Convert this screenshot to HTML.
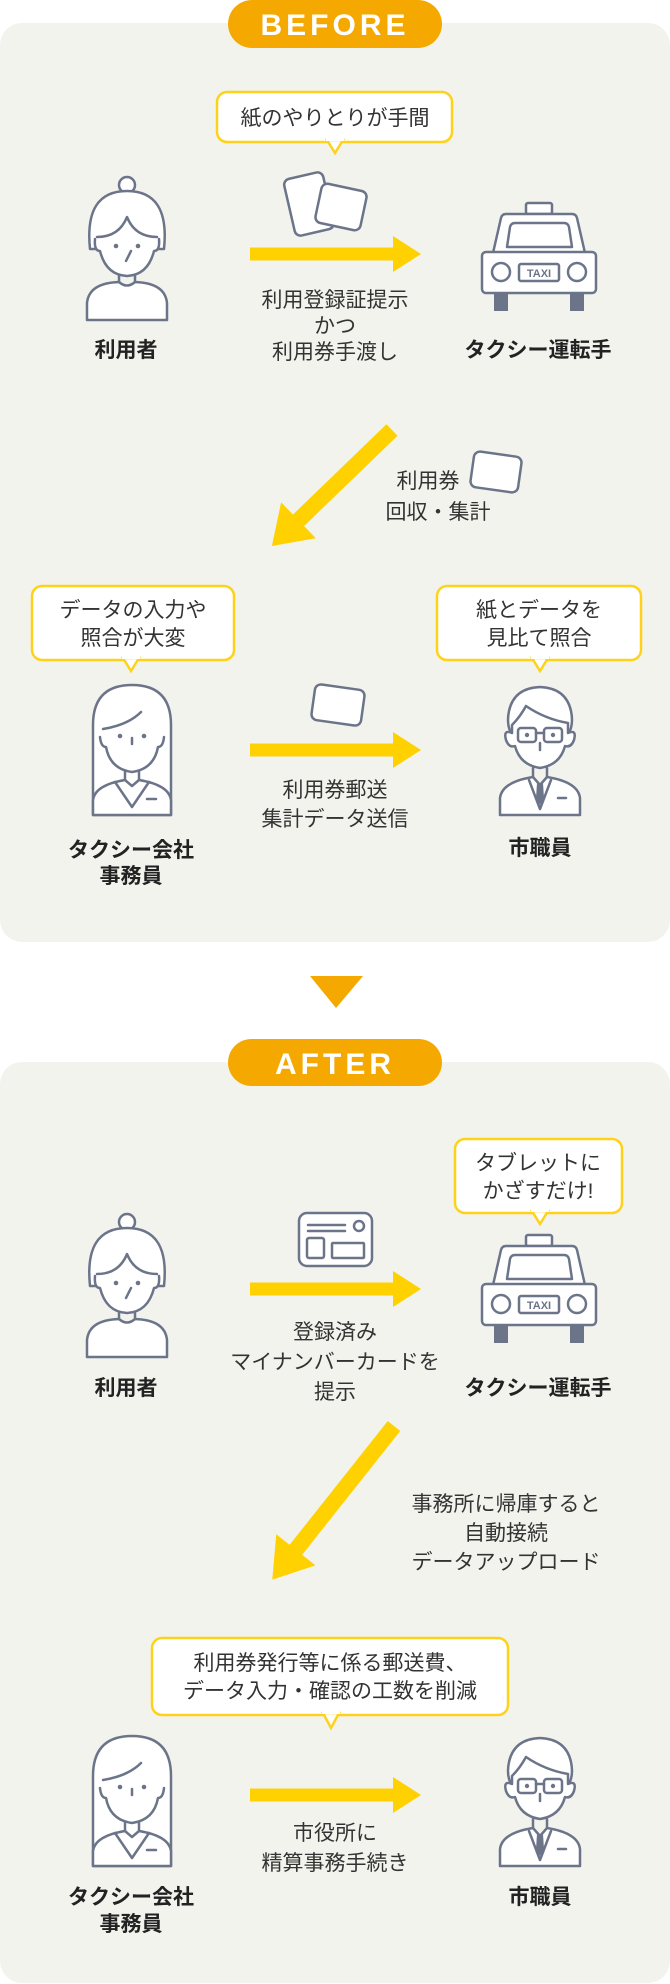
<!DOCTYPE html>
<html><head><meta charset="utf-8"><style>
html,body{margin:0;padding:0;background:#fff;}
svg{display:block;}
text{font-family:"Liberation Sans","Noto Sans CJK JP",sans-serif;}
.d{font-size:21px;fill:#333;text-anchor:middle;}
.l{font-size:21px;fill:#222;font-weight:bold;text-anchor:middle;}
.b{font-size:21px;fill:#333;text-anchor:middle;}
.ic{fill:#fff;stroke:#6B7489;stroke-width:2.5;stroke-linecap:round;stroke-linejoin:round;}
.ln{fill:none;stroke:#6B7489;stroke-width:2.5;stroke-linecap:round;stroke-linejoin:round;}
.bub{fill:#fff;stroke:#FFD21A;stroke-width:2.5;}
</style></head><body>
<svg width="670" height="1984" viewBox="0 0 670 1984" xmlns="http://www.w3.org/2000/svg">
<defs>
<g id="oldw">
 <circle class="ic" cx="41" cy="8" r="8"/>
 <path class="ic" d="M4,72 Q-2,14 41,14 Q84,14 78,72 Z"/>
 <path class="ic" d="M9,62 Q8,74 14,74 Q20,98 41,99 Q62,98 68,74 Q74,74 73,62"/>
 <path class="ln" d="M11,60 Q33,60 41,40 Q49,60 71,60"/>
 <circle cx="30" cy="69" r="2.3" fill="#6B7489"/><circle cx="52" cy="69" r="2.3" fill="#6B7489"/>
 <path class="ln" d="M45,74 L40,84"/>
 <path class="ic" d="M1,143 V126 Q3,106 33,105 Q41,112 49,105 Q79,106 81,126 V143 Z"/>
 <path class="ln" d="M33,99 V105 M49,99 V105"/>
</g>
<g id="girl">
 <path class="ic" d="M1,130 V40 Q1,0 40,0 Q79,0 79,40 V130 Z"/>
 <path class="ic" d="M8,52 Q9,62 14,62 Q18,84 40,87 Q62,84 66,62 Q71,62 72,52"/>
 <path class="ln" d="M11,44 Q36,40 49,27"/>
 <circle cx="28" cy="51" r="2.3" fill="#6B7489"/><circle cx="52" cy="51" r="2.3" fill="#6B7489"/>
 <path class="ln" d="M40,53 V59"/>
 <path class="ic" d="M1,130 V115 Q3,100 33,95 L40,101 L47,95 Q77,100 79,115 V130 Z"/>
 <path class="ln" d="M33,87 V95 M47,87 V95 M23,97 L40,122 L57,97 M55,114 H64"/>
</g>
<g id="man">
 <path class="ic" d="M12,50 Q6,40 9,26 Q14,3 40,2 Q66,3 71,26 Q74,40 68,50 Z"/>
 <path class="ic" d="M12,48 Q3,44 6,55 Q9,63 15,61 Q20,80 40,83 Q60,80 65,61 Q71,63 74,55 Q77,44 68,48 L68,38 Q45,34 26,21 Q20,32 12,40 Z"/>
 <rect class="ln" x="18" y="43" width="18" height="14" rx="3"/><rect class="ln" x="44" y="43" width="18" height="14" rx="3"/>
 <path class="ln" d="M36,48 H44"/>
 <circle cx="27" cy="50" r="2.2" fill="#6B7489"/><circle cx="53" cy="50" r="2.2" fill="#6B7489"/>
 <path class="ln" d="M40,58 V65"/>
 <path class="ic" d="M0,130 V113 Q2,97 33,92 L40,100 L47,92 Q78,97 80,113 V130 Z"/>
 <path class="ln" d="M33,83 V92 M47,83 V92 M29,95 L40,124 L51,95 M58,113 H66"/>
 <path d="M37,98 H43 L44,113 L40,120 L36,113 Z" fill="#6B7489"/>
</g>
<g id="taxi">
 <rect class="ic" x="46" y="1" width="26" height="11" rx="2"/>
 <path class="ic" d="M13,51 L21,16 Q22,12 26,12 H92 Q96,12 97,16 L105,51 Z"/>
 <path class="ln" d="M27,45 L30,25 Q31,21 35,21 H84 Q88,21 89,25 L92,45 Z"/>
 <rect x="14" y="89" width="14" height="20" fill="#6B7489"/><rect x="90" y="89" width="14" height="20" fill="#6B7489"/>
 <rect class="ic" x="2" y="50" width="114" height="41" rx="4"/>
 <circle class="ln" cx="21" cy="70" r="9"/><circle class="ln" cx="97" cy="70" r="9"/>
 <rect class="ln" x="39" y="62" width="40" height="17" rx="2"/>
 <text x="59" y="75" font-size="11" font-weight="bold" fill="#6B7489" text-anchor="middle">TAXI</text>
</g>
<g id="harr">
 <rect x="0" y="-6.5" width="145" height="13" fill="#FFD100"/>
 <polygon points="143,-18 171,0 143,18" fill="#FFD100"/>
</g>
</defs>

<!-- panels -->
<rect x="0" y="23" width="670" height="919" rx="22" fill="#F3F3EE"/>
<rect x="0" y="1062" width="670" height="921" rx="22" fill="#F3F3EE"/>

<!-- BEFORE pill -->
<rect x="228" y="0" width="214" height="48" rx="24" fill="#F5A800"/>
<text x="335" y="35" font-size="30" font-weight="bold" fill="#fff" text-anchor="middle" letter-spacing="4">BEFORE</text>

<!-- bubble 1 -->
<rect class="bub" x="217" y="92" width="235" height="50" rx="10"/>
<polygon points="327,140 343,140 335,153" fill="#fff" stroke="#FFD21A" stroke-width="2.5"/>
<rect x="326" y="138" width="18" height="3" fill="#fff"/>
<text class="b" x="335" y="125">紙のやりとりが手間</text>

<use href="#oldw" x="86" y="177"/>
<text class="l" x="126" y="357">利用者</text>

<rect class="ic" x="289" y="175" width="40" height="58" rx="6" transform="rotate(-13 309 204)"/>
<rect class="ic" x="318" y="187" width="46" height="40" rx="6" transform="rotate(12 341 207)"/>

<use href="#harr" x="250" y="254"/>
<text class="d" x="335" y="307">利用登録証提示</text>
<text class="d" x="335" y="333">かつ</text>
<text class="d" x="335" y="359">利用券手渡し</text>

<use href="#taxi" x="480" y="202"/>
<text class="l" x="538" y="357">タクシー運転手</text>

<!-- diagonal 1 -->
<g transform="translate(392,430) rotate(136)">
 <rect x="0" y="-8" width="132" height="16" fill="#FFD100"/>
 <polygon points="130,-25 167,0 130,25" fill="#FFD100"/>
</g>
<rect class="ic" x="472" y="454" width="48" height="36" rx="6" transform="rotate(8 496 472)"/>
<text class="d" x="428" y="488">利用券</text>
<text class="d" x="438" y="519">回収・集計</text>

<!-- bubble 2 -->
<rect class="bub" x="32" y="586" width="202" height="74" rx="10"/>
<polygon points="123,658 139,658 131,671" fill="#fff" stroke="#FFD21A" stroke-width="2.5"/>
<rect x="122" y="656" width="18" height="3" fill="#fff"/>
<text class="b" x="133" y="617">データの入力や</text>
<text class="b" x="133" y="645">照合が大変</text>

<!-- bubble 3 -->
<rect class="bub" x="437" y="586" width="204" height="74" rx="10"/>
<polygon points="532,658 548,658 540,671" fill="#fff" stroke="#FFD21A" stroke-width="2.5"/>
<rect x="531" y="656" width="18" height="3" fill="#fff"/>
<text class="b" x="539" y="617">紙とデータを</text>
<text class="b" x="539" y="645">見比て照合</text>

<use href="#girl" x="92" y="685"/>
<text class="l" x="131" y="857">タクシー会社</text>
<text class="l" x="131" y="883">事務員</text>

<rect class="ic" x="313" y="687" width="50" height="36" rx="6" transform="rotate(8 338 705)"/>
<use href="#harr" x="250" y="750"/>
<text class="d" x="335" y="797">利用券郵送</text>
<text class="d" x="335" y="826">集計データ送信</text>

<use href="#man" x="500" y="685"/>
<text class="l" x="540" y="855">市職員</text>

<!-- down triangle -->
<polygon points="310,976 363,976 336,1008" fill="#F5A800"/>

<!-- AFTER pill -->
<rect x="228" y="1039" width="214" height="47" rx="23.5" fill="#F5A800"/>
<text x="335" y="1074" font-size="30" font-weight="bold" fill="#fff" text-anchor="middle" letter-spacing="4">AFTER</text>

<!-- bubble tablet -->
<rect class="bub" x="455" y="1139" width="167" height="74" rx="10"/>
<polygon points="532,1211 548,1211 540,1224" fill="#fff" stroke="#FFD21A" stroke-width="2.5"/>
<rect x="531" y="1209" width="18" height="3" fill="#fff"/>
<text class="b" x="538" y="1170">タブレットに</text>
<text class="b" x="538" y="1198">かざすだけ!</text>

<use href="#oldw" x="86" y="1214"/>
<text class="l" x="126" y="1395">利用者</text>

<!-- my number card -->
<rect class="ic" x="299" y="1213" width="73" height="53" rx="8"/>
<path class="ln" d="M308,1225 H345 M308,1231 H345"/>
<circle class="ln" cx="359" cy="1226" r="5"/>
<rect class="ln" x="307" y="1238" width="17" height="20" rx="2"/>
<rect class="ln" x="332" y="1243" width="32" height="15" rx="1"/>

<use href="#harr" x="250" y="1289"/>
<text class="d" x="335" y="1339">登録済み</text>
<text class="d" x="335" y="1369">マイナンバーカードを</text>
<text class="d" x="335" y="1399">提示</text>

<use href="#taxi" x="480" y="1234"/>
<text class="l" x="538" y="1395">タクシー運転手</text>

<!-- diagonal 2 -->
<g transform="translate(394,1426) rotate(128.4)">
 <rect x="0" y="-8" width="160" height="16" fill="#FFD100"/>
 <polygon points="158,-25 196,0 158,25" fill="#FFD100"/>
</g>
<text class="d" x="506" y="1511">事務所に帰庫すると</text>
<text class="d" x="506" y="1540">自動接続</text>
<text class="d" x="506" y="1569">データアップロード</text>

<!-- big bubble -->
<rect class="bub" x="152" y="1638" width="356" height="77" rx="10"/>
<polygon points="323,1713 339,1713 331,1728" fill="#fff" stroke="#FFD21A" stroke-width="2.5"/>
<rect x="322" y="1711" width="18" height="3" fill="#fff"/>
<text class="b" x="330" y="1670">利用券発行等に係る郵送費、</text>
<text class="b" x="330" y="1698">データ入力・確認の工数を削減</text>

<use href="#girl" x="92" y="1736"/>
<text class="l" x="131" y="1904">タクシー会社</text>
<text class="l" x="131" y="1931">事務員</text>

<use href="#harr" x="250" y="1795"/>
<text class="d" x="335" y="1840">市役所に</text>
<text class="d" x="335" y="1870">精算事務手続き</text>

<use href="#man" x="500" y="1736"/>
<text class="l" x="540" y="1904">市職員</text>
</svg>
</body></html>
